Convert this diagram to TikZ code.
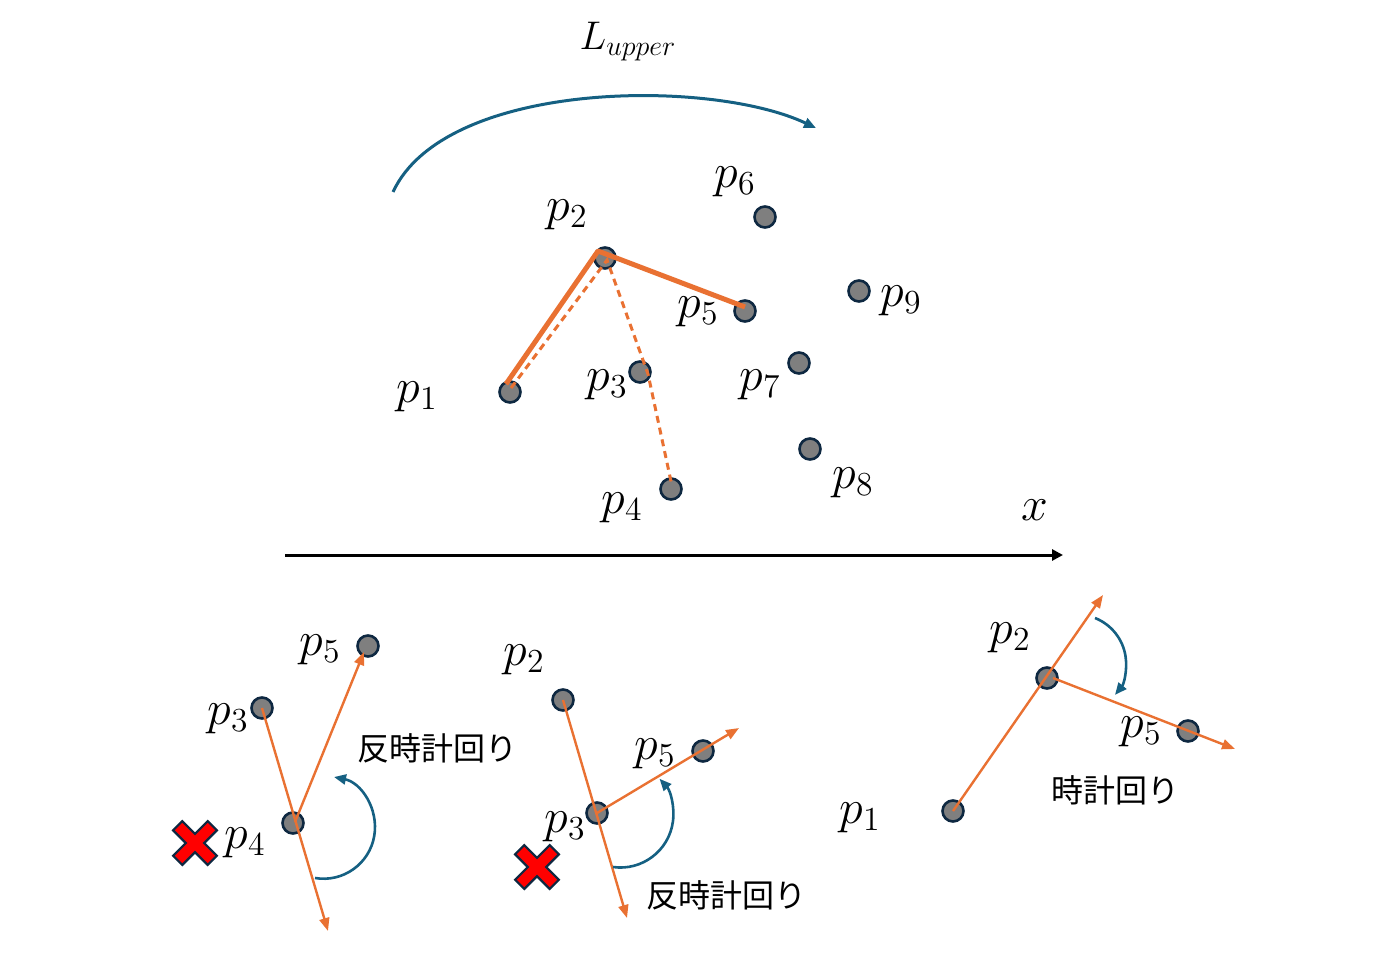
\RequirePackage{fix-cm}
\documentclass[tikz,border=0pt]{standalone}
\usepackage{fontspec}
\newfontfamily\jp{Noto Sans CJK JP}
\usetikzlibrary{arrows.meta}
\definecolor{orng}{HTML}{E97132}
\definecolor{tealb}{HTML}{156082}
\definecolor{dotfill}{HTML}{7F7F7F}
\definecolor{dotline}{HTML}{0E2841}
\definecolor{xred}{HTML}{FF0000}
\tikzset{
  dot/.style={circle,fill=dotfill,draw=dotline,line width=1.3pt,minimum size=10.5pt,inner sep=0pt},
  lbl/.style={font=\fontsize{24}{28}\selectfont, inner sep=0pt},
  jlbl/.style={font=\fontsize{16}{20}\selectfont\jp, inner sep=0pt},
  hull/.style={draw=orng,line width=2.5pt,line join=round},
  cand/.style={draw=orng,line width=1.5pt,dash pattern=on 3.5pt off 2.5pt},
  ray/.style={draw=orng,line width=1.2pt,-{Triangle[length=6.5pt,width=5pt]}},
  turn/.style={draw=tealb,line width=1.3pt,-{Triangle[length=6pt,width=5pt]}},
  toparc/.style={draw=tealb,line width=1.5pt,-{Triangle[length=6pt,width=5pt]}},
  axis/.style={draw=black,line width=1.5pt,-{Triangle[length=5.5pt,width=5.5pt]}},
  redx/.pic={\draw[fill=xred,draw=dotline,line width=1.1pt,rotate=45]
     (3.25pt,3.25pt) -- (3.25pt,12.25pt) -- (-3.25pt,12.25pt) -- (-3.25pt,3.25pt)
     -- (-12.25pt,3.25pt) -- (-12.25pt,-3.25pt) -- (-3.25pt,-3.25pt) -- (-3.25pt,-12.25pt)
     -- (3.25pt,-12.25pt) -- (3.25pt,-3.25pt) -- (12.25pt,-3.25pt) -- (12.25pt,3.25pt) -- cycle;}
}
\begin{document}
\begin{tikzpicture}[x=0.5pt,y=-0.5pt]
\useasboundingbox (0,0) rectangle (1400,952);

% ---------- top: upper hull ----------
\node[font=\fontsize{20}{24}\selectfont] (lup) at (628,42) {$L_{upper}$};
\coordinate (u0) at (393,192);
\coordinate (u1) at (816,128);
\draw[toparc] (u0) .. controls (445,80) and (710,78) .. (u1);

\node[dot] (t1) at (510,392) {};
\node[dot] (t2) at (605,258) {};
\node[dot] (t3) at (640,372) {};
\node[dot] (t4) at (671,489) {};
\node[dot] (t5) at (745,311) {};
\node[dot] (t6) at (765,217) {};
\node[dot] (t7) at (799,363) {};
\node[dot] (t8) at (810,449) {};
\node[dot] (t9) at (859,291) {};

\node[lbl] (lt1) at (417,397) {$p_1$};
\node[lbl] (lt2) at (567,215) {$p_2$};
\node[lbl] (lt3) at (607,385) {$p_3$};
\node[lbl] (lt4) at (622,508) {$p_4$};
\node[lbl] (lt5) at (698,312) {$p_5$};
\node[lbl] (lt6) at (735,182) {$p_6$};
\node[lbl] (lt7) at (760,385) {$p_7$};
\node[lbl] (lt8) at (853,483) {$p_8$};
\node[lbl] (lt9) at (901,301) {$p_9$};

\draw[cand] ([shift={(1,-4)}]t1.center) -- ([shift={(2,2)}]t2.center) -- ([shift={(8,2)}]t3.center) -- ([shift={(1,-3)}]t4.center);
\draw[hull] ([shift={(-4,-8)}]t1.center) -- ([shift={(-7,-7)}]t2.center) -- ([shift={(0,-4)}]t5.center);

% ---------- x axis ----------
\coordinate (ax0) at (285,555);
\coordinate (ax1) at (1063,555);
\draw[axis] (ax0) -- (ax1);
\node[lbl] (xl) at (1035,510) {$x$};

% ---------- bottom left ----------
\node[dot] (a3) at (262,708) {};
\node[dot] (a4) at (293,823) {};
\node[dot] (a5) at (368,646) {};
\node[lbl] (la3) at (228,719) {$p_3$};
\node[lbl] (la4) at (245,843) {$p_4$};
\node[lbl] (la5) at (320,650) {$p_5$};
\pic at (195,843) {redx};
\coordinate (ae1) at (328,931);
\coordinate (ae2) at (364,652);
\draw[ray] (a3.center) -- (ae1);
\draw[ray] ([shift={(2,-1)}]a4.center) -- (ae2);
\coordinate (ac0) at (315,878);
\draw[turn] (ac0) arc[start angle=-99.6, end angle=78.3, radius=25.7pt];
\node[jlbl] (ja) at (437,748) {反時計回り};

% ---------- bottom middle ----------
\node[dot] (b2) at (563,700) {};
\node[dot] (b3) at (597,813) {};
\node[dot] (b5) at (703,751) {};
\node[lbl] (lb2) at (524,660) {$p_2$};
\node[lbl] (lb3) at (565,827) {$p_3$};
\node[lbl] (lb5) at (655,754) {$p_5$};
\pic at (537,867) {redx};
\coordinate (be1) at (627,918);
\coordinate (be2) at (739,728);
\draw[ray] (b2.center) -- (be1);
\draw[ray] (b3.center) -- (be2);
\coordinate (bc0) at (613,867);
\draw[turn] (bc0) arc[start angle=-98, end angle=42.4, radius=26.5pt];
\node[jlbl] (jb) at (726,895) {反時計回り};

% ---------- bottom right ----------
\node[dot] (c1) at (953,811) {};
\node[dot] (c2) at (1047,678) {};
\node[dot] (c5) at (1188,731) {};
\node[lbl] (lc1) at (860,818) {$p_1$};
\node[lbl] (lc2) at (1010,638) {$p_2$};
\node[lbl] (lc5) at (1141,732) {$p_5$};
\coordinate (ce1) at (1103,595);
\coordinate (ce2) at (1235,749);
\draw[ray] (c1.center) -- (ce1);
\draw[ray] ([shift={(6,0)}]c2.center) -- (ce2);
\coordinate (cc0) at (1095,618);
\draw[turn] (cc0) arc[start angle=68.4, end angle=-39.3, radius=24.6pt];
\node[jlbl] (jc) at (1115,790) {時計回り};
\end{tikzpicture}
\end{document}
